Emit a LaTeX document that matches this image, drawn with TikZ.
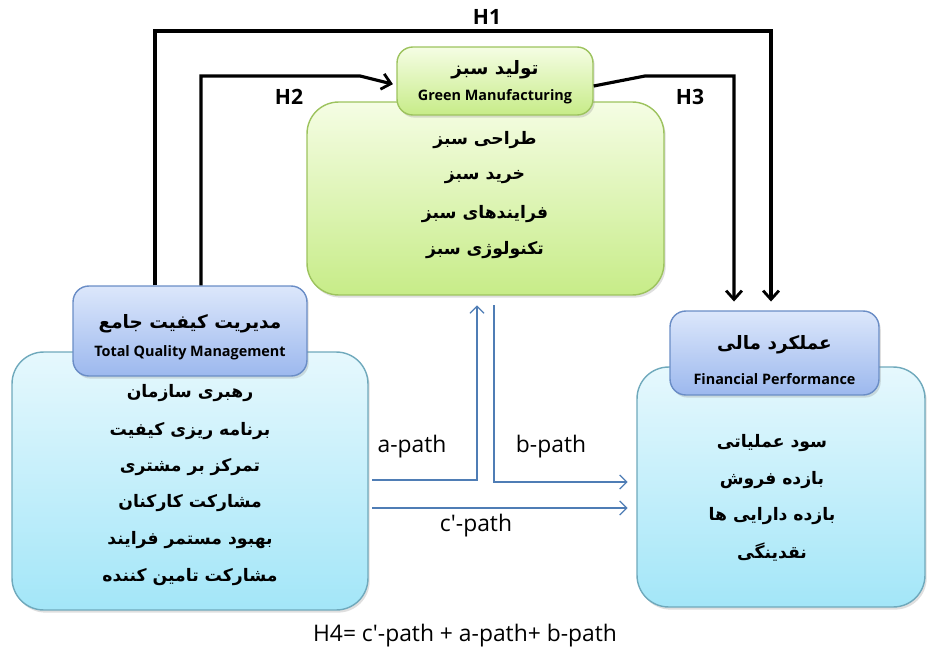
\documentclass[tikz,border=0pt]{standalone}
\usepackage{fontspec}
\setmainfont{Open Sans}
\newfontfamily\farsi[Script=Arabic]{DejaVu Sans}
\TeXXeTstate=1
\usepackage{tikz}
\usetikzlibrary{arrows.meta,positioning,shapes,shadows,calc}
\newcommand\fa[1]{{\farsi\bfseries\beginR #1\endR}}
\definecolor{cyantop}{HTML}{E6F8FD}
\definecolor{cyanbot}{HTML}{A3E6F8}
\definecolor{cyanline}{HTML}{6FA9BC}
\definecolor{bluetop}{HTML}{DCE7FB}
\definecolor{bluebot}{HTML}{9CB8EE}
\definecolor{blueline}{HTML}{6A8DC6}
\definecolor{greentop}{HTML}{F5FDE4}
\definecolor{greenbot}{HTML}{C7EC88}
\definecolor{greenline}{HTML}{9DC35E}
\definecolor{pathblue}{HTML}{4F7DB5}
\tikzset{
  bodybox/.style = {rounded corners = 18pt, draw = cyanline, line width = 0.8pt,
    top color = cyantop, bottom color = cyanbot,
    drop shadow = {opacity = 0.25, shadow xshift = 1pt, shadow yshift = -1.5pt}},
  headbox/.style = {rounded corners = 9pt, draw = blueline, line width = 0.8pt,
    top color = bluetop, bottom color = bluebot,
    drop shadow = {opacity = 0.25, shadow xshift = 1pt, shadow yshift = -1.5pt}},
  greenbox/.style = {rounded corners = 18pt, draw = greenline, line width = 0.8pt,
    top color = greentop, bottom color = greenbot,
    drop shadow = {opacity = 0.25, shadow xshift = 1pt, shadow yshift = -1.5pt}},
  harrow/.style = {line width = 1.8pt, -{Straight Barb[length = 5pt, width = 9pt, line width = 1.6pt]}},
  parrow/.style = {line width = 0.8pt, draw = pathblue, -{Straight Barb[length = 4pt, width = 8pt, line width = 0.7pt]}},
  item/.style = {font = \fontsize{9.8}{12}\selectfont},
  title/.style = {font = \fontsize{10.5}{13}\selectfont},
  entitle/.style = {font = \fontsize{8.2}{10}\selectfont\bfseries},
  hlabel/.style = {font = \fontsize{12}{14}\selectfont\bfseries},
  plabel/.style = {font = \fontsize{13}{15}\selectfont}
}
\begin{document}
\begin{tikzpicture}[x = 0.02cm, y = -0.02cm]
\useasboundingbox (0,0) rectangle (929,652);
% boxes
\node[bodybox, minimum width = 7.12cm, minimum height = 5.16cm] (lbody) at (190,481) {};
\node[headbox, minimum width = 4.68cm, minimum height = 1.8cm] (lhead) at (190,331) {};
\node[greenbox, minimum width = 7.14cm, minimum height = 3.86cm] (gbody) at (485.5,198.5) {};
\node[greenbox, rounded corners = 9pt, minimum width = 3.92cm, minimum height = 1.36cm] (ghead) at (495,81) {};
\node[bodybox, minimum width = 5.76cm, minimum height = 4.8cm] (rbody) at (781,487) {};
\node[headbox, minimum width = 4.18cm, minimum height = 1.68cm] (rhead) at (774.5,353) {};
% Total Quality Management
\node[title] (tqmfa) at (190,324) {\fa{مدیریت کیفیت جامع}};
\node[entitle] (tqmen) at (190,353) {Total Quality Management};
\node[item] (tqm1) at (190,393) {\fa{رهبری سازمان}};
\node[item] (tqm2) at (190,431) {\fa{برنامه ریزی کیفیت}};
\node[item] (tqm3) at (190,467) {\fa{تمرکز بر مشتری}};
\node[item] (tqm4) at (190,503) {\fa{مشارکت کارکنان}};
\node[item] (tqm5) at (190,540) {\fa{بهبود مستمر فرایند}};
\node[item] (tqm6) at (190,577) {\fa{مشارکت تامین کننده}};
% Green Manufacturing
\node[title] (gmfa) at (495,70) {\fa{تولید سبز}};
\node[entitle] (gmen) at (495,97) {Green Manufacturing};
\node[item] (gm1) at (485,140) {\fa{طراحی سبز}};
\node[item] (gm2) at (485,177) {\fa{خرید  سبز}};
\node[item] (gm3) at (485,214) {\fa{فرایندهای سبز}};
\node[item] (gm4) at (485,250) {\fa{تکنولوژی سبز}};
% Financial Performance
\node[title] (fpfa) at (774.5,345) {\fa{عملکرد مالی}};
\node[entitle] (fpen) at (774.5,379) {Financial Performance};
\node[item] (fp1) at (772,443) {\fa{سود عملیاتی}};
\node[item] (fp2) at (772,480) {\fa{بازده  فروش}};
\node[item] (fp3) at (772,516) {\fa{بازده دارایی ها}};
\node[item] (fp4) at (772,552) {\fa{نقدینگی}};
% hypotheses
\coordinate (h1a) at (155,31);
\coordinate (h1b) at (771,31);
\coordinate (h2a) at (201,76);
\coordinate (h2b) at (360,76);
\coordinate (h3a) at (645,76);
\coordinate (h3b) at (734,76);
\draw[harrow, shorten > = 5pt] (lhead.north -| h1a) -- (h1a) -- (h1b) -- (rhead.north -| h1b);
\draw[harrow, shorten > = 2pt] (lhead.north -| h2a) -- (h2a) -- (h2b) -- ($(ghead.west)+(0,4)$);
\draw[harrow, shorten > = 5pt] ($(ghead.east)+(0,5)$) -- (h3a) -- (h3b) -- (rhead.north -| h3b);
\node[hlabel] (h1) at (487,17) {H1};
\node[hlabel] (h2) at (289,97) {H2};
\node[hlabel] (h3) at (690,97) {H3};
% mediation paths
\coordinate (astart) at (372,480);
\coordinate (acorner) at (477,480);
\coordinate (bcorner) at (494,482);
\coordinate (cstart) at (372,508);
\draw[parrow, shorten > = 5.5pt] (astart) -- (acorner) -- (gbody.south -| acorner);
\draw[parrow, shorten < = 5.5pt, shorten > = 5pt] (gbody.south -| bcorner) -- (bcorner) -- (rbody.west |- bcorner);
\draw[parrow, shorten > = 5pt] (cstart) -- (rbody.west |- cstart);
\node[plabel] (apath) at (412,447) {a-path};
\node[plabel] (bpath) at (551,447) {b-path};
\node[plabel] (cpath) at (476,526) {c\textquotesingle-path};
\node[plabel] (h4) at (465,636) {H4= c\textquotesingle-path + a-path+ b-path};
\end{tikzpicture}
\end{document}
